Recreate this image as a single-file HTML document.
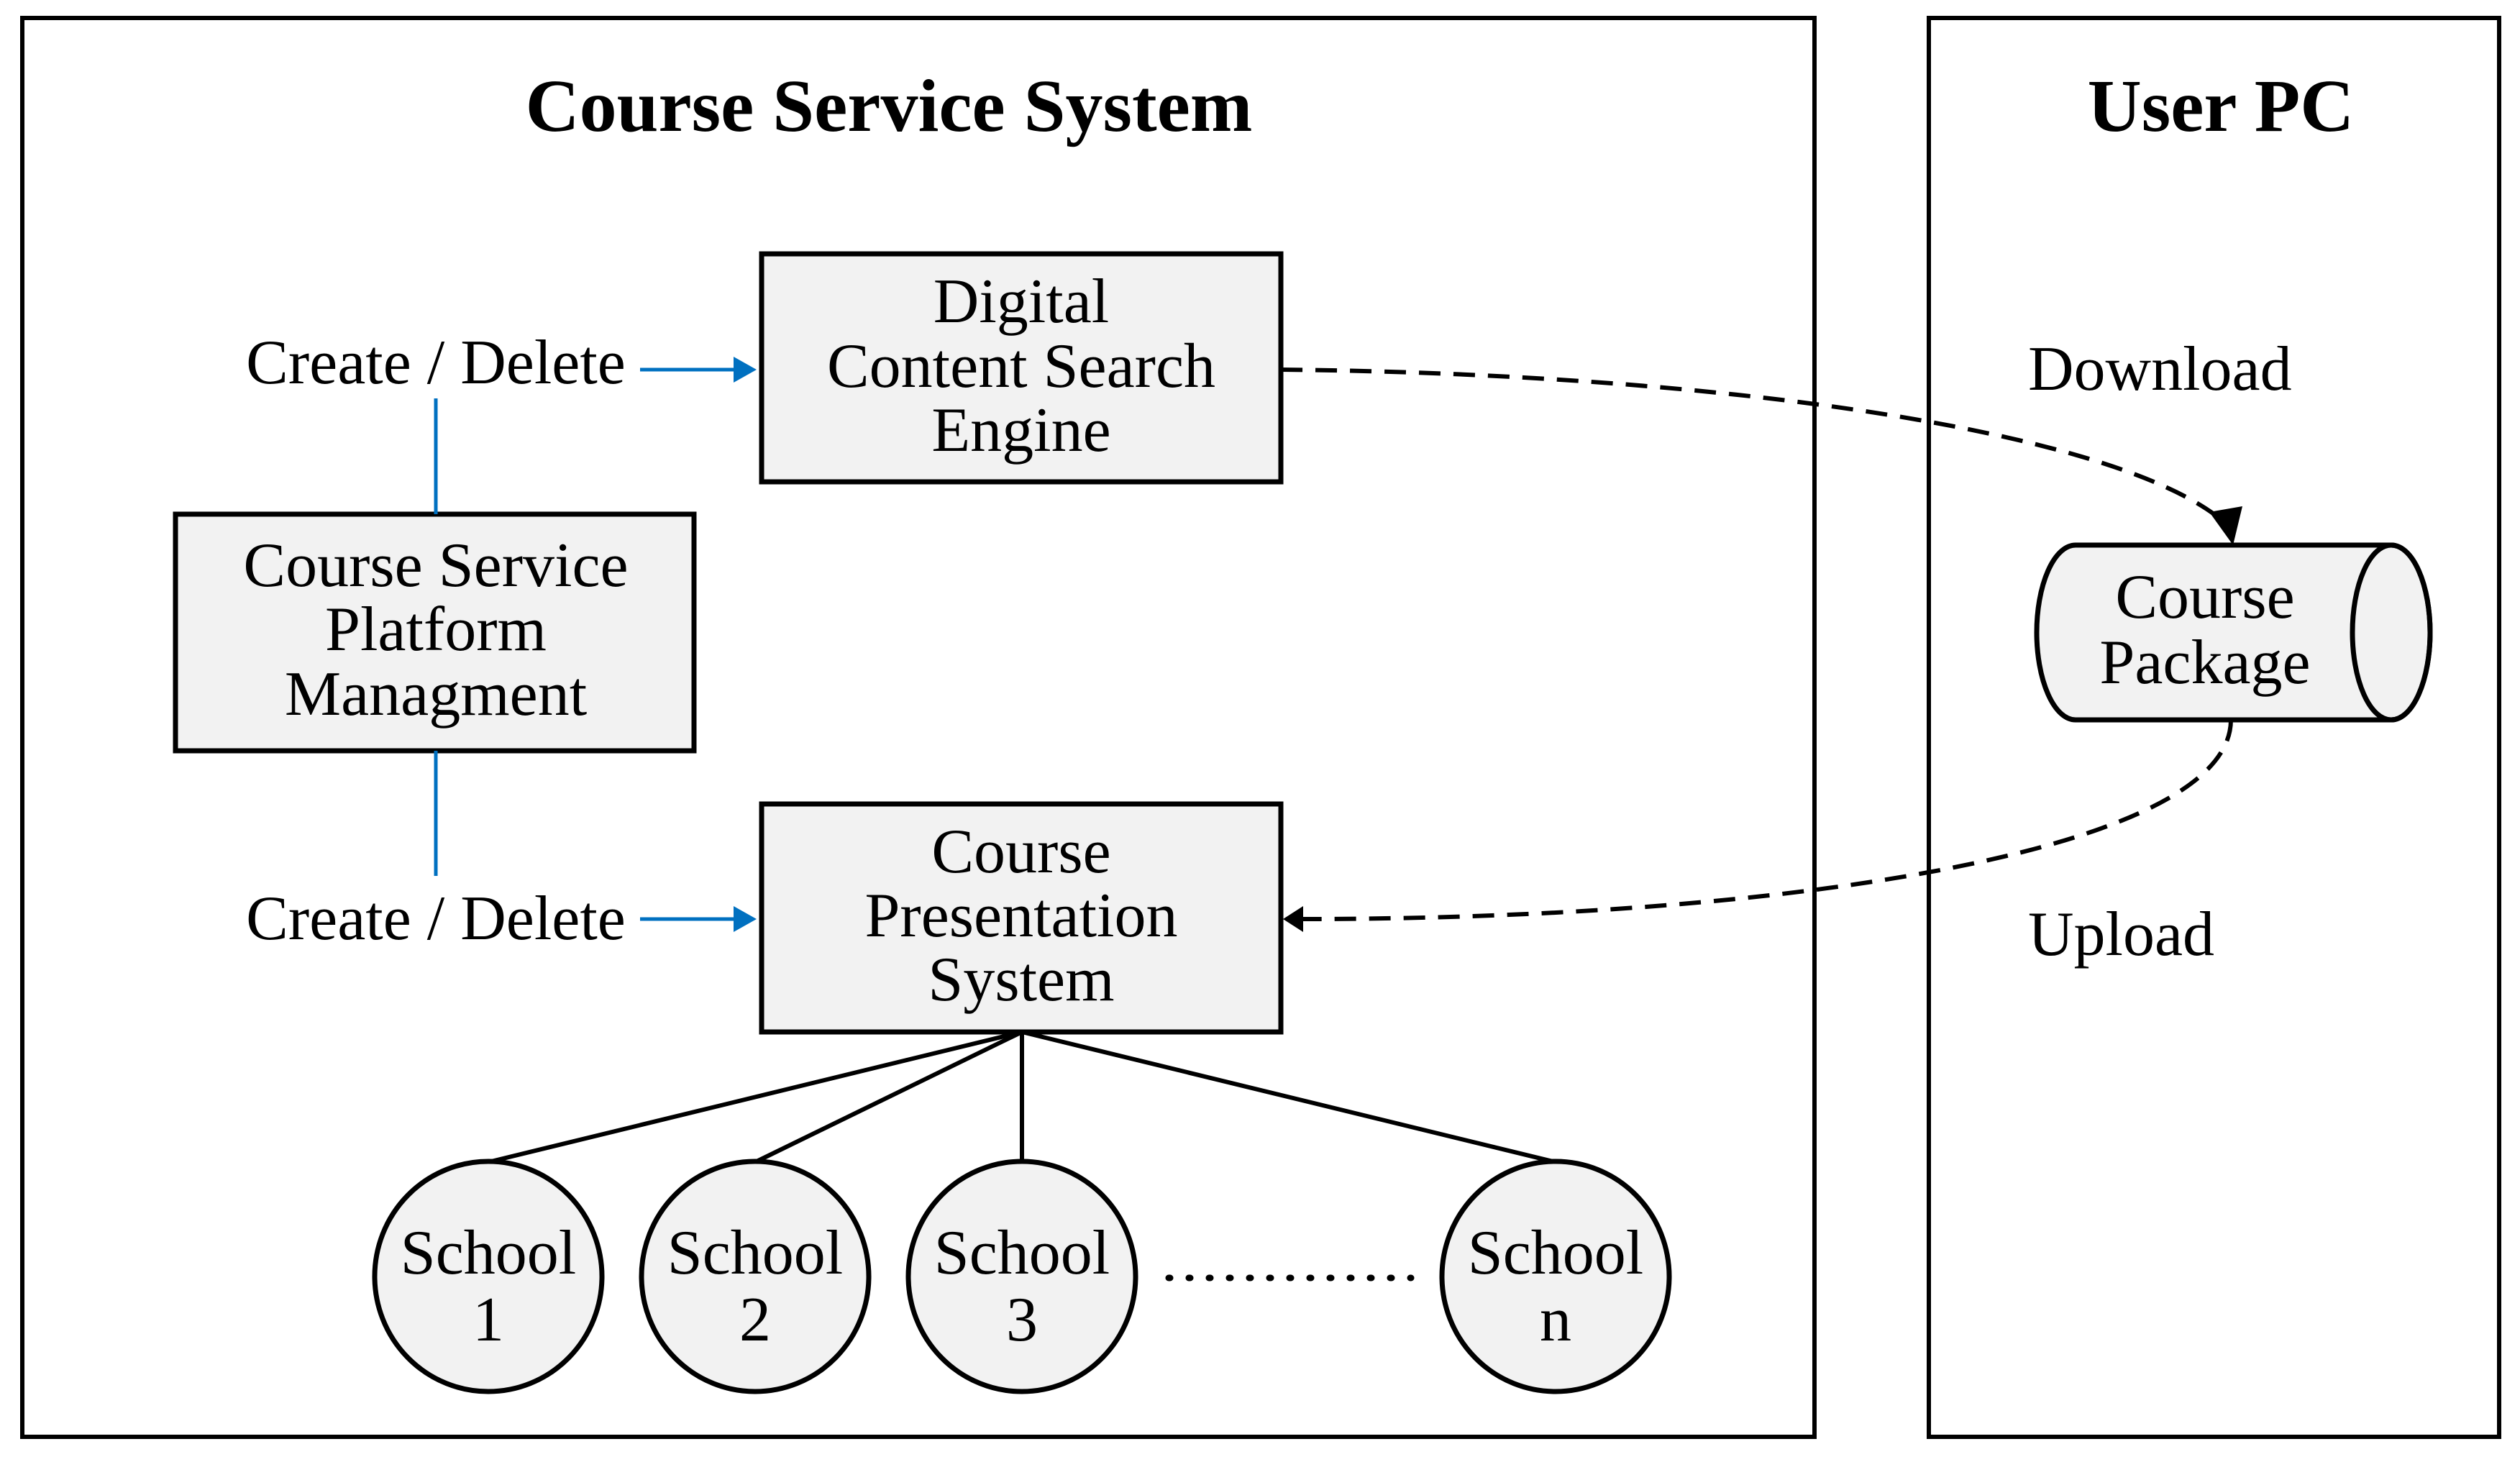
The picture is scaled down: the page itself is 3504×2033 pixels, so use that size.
<!DOCTYPE html>
<html><head><meta charset="utf-8"><style>
html,body{margin:0;padding:0;background:#fff;}
svg{display:block;}
text{font-family:"Liberation Serif",serif;fill:#000;}
</style></head><body>
<svg width="3504" height="2033" viewBox="0 0 3504 2033" xmlns="http://www.w3.org/2000/svg">
<rect x="31" y="25" width="2492" height="1973" fill="none" stroke="#000" stroke-width="6"/>
<rect x="2682" y="25" width="793" height="1973" fill="none" stroke="#000" stroke-width="6"/>
<text x="1236" y="182" font-size="104" font-weight="bold" text-anchor="middle">Course Service System</text>
<text x="3088" y="182" font-size="104" font-weight="bold" text-anchor="middle">User PC</text>

<g font-size="88" text-anchor="middle">
<rect x="1059" y="353" width="722" height="317" fill="#f2f2f2" stroke="#000" stroke-width="7"/>
<text x="1420" y="448">Digital</text>
<text x="1420" y="538">Content Search</text>
<text x="1420" y="627">Engine</text>

<rect x="244" y="715" width="721" height="329" fill="#f2f2f2" stroke="#000" stroke-width="7"/>
<text x="606" y="815">Course Service</text>
<text x="606" y="904">Platform</text>
<text x="606" y="994">Managment</text>

<rect x="1059" y="1118" width="722" height="317" fill="#f2f2f2" stroke="#000" stroke-width="7"/>
<text x="1420" y="1213">Course</text>
<text x="1420" y="1302">Presentation</text>
<text x="1420" y="1391">System</text>

<text x="606" y="533">Create / Delete</text>
<text x="606" y="1306">Create / Delete</text>
<text x="2820" y="542" text-anchor="start">Download</text>
<text x="2820" y="1328" text-anchor="start">Upload</text>
</g>

<g stroke="#0070c0" stroke-width="5" fill="none">
<line x1="606" y1="554" x2="606" y2="715"/>
<line x1="606" y1="1044" x2="606" y2="1218"/>
<line x1="890" y1="514" x2="1025" y2="514"/>
<line x1="890" y1="1278" x2="1025" y2="1278"/>
</g>
<path d="M1020,496 L1052,514 L1020,532 z" fill="#0070c0"/>
<path d="M1020,1260 L1052,1278 L1020,1296 z" fill="#0070c0"/>

<path d="M1781,514 C2400,520 2950,600 3095,728" fill="none" stroke="#000" stroke-width="6" stroke-dasharray="30,18"/>
<path d="M3072,712 L3118,704 L3105,758 z" fill="#000"/>
<path d="M3102,1001 C3102,1180 2500,1278 1810,1278" fill="none" stroke="#000" stroke-width="6" stroke-dasharray="30,18"/>
<path d="M1784,1278 L1812,1260 L1812,1296 z" fill="#000"/>

<path d="M2886,758 L3325,758 A54,121.5 0 0 1 3325,1001 L2886,1001 A54,121.5 0 0 1 2886,758 z" fill="#f2f2f2" stroke="#000" stroke-width="7"/>
<ellipse cx="3325" cy="879.5" rx="54" ry="121.5" fill="none" stroke="#000" stroke-width="7"/>
<g font-size="88" text-anchor="middle">
<text x="3066" y="859">Course</text>
<text x="3066" y="950">Package</text>
</g>

<g stroke="#000" stroke-width="6">
<line x1="1421" y1="1435" x2="679" y2="1616"/>
<line x1="1421" y1="1435" x2="1050" y2="1616"/>
<line x1="1421" y1="1435" x2="1421" y2="1616"/>
<line x1="1421" y1="1435" x2="2163" y2="1616"/>
</g>
<g fill="#f2f2f2" stroke="#000" stroke-width="7">
<ellipse cx="679" cy="1775" rx="158" ry="160"/>
<ellipse cx="1050" cy="1775" rx="158" ry="160"/>
<ellipse cx="1421" cy="1775" rx="158" ry="160"/>
<ellipse cx="2163" cy="1775" rx="158" ry="160"/>
</g>
<g font-size="88" text-anchor="middle">
<text x="679" y="1771">School</text><text x="679" y="1864">1</text>
<text x="1050" y="1771">School</text><text x="1050" y="1864">2</text>
<text x="1421" y="1771">School</text><text x="1421" y="1864">3</text>
<text x="2163" y="1771">School</text><text x="2163" y="1864">n</text>
</g>
<line x1="1625" y1="1777" x2="1962" y2="1777" stroke="#000" stroke-width="9" stroke-dasharray="2,26" stroke-linecap="round"/>
</svg>
</body></html>
